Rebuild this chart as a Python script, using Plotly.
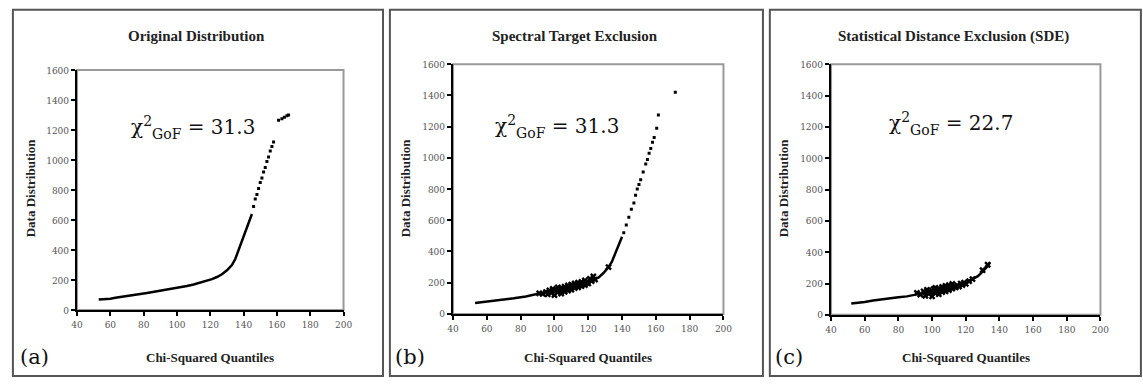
import plotly.graph_objects as go

# ---------------- data ----------------
titles = ["Original Distribution", "Spectral Target Exclusion", "Statistical Distance Exclusion (SDE)"]
panel_tags = ["(a)", "(b)", "(c)"]
gof_values = ["31.3", "31.3", "22.7"]
x_ticks = [40, 60, 80, 100, 120, 140, 160, 180, 200]
y_ticks = [0, 200, 400, 600, 800, 1000, 1200, 1400, 1600]

# panel (a)
a_line_x = [53, 56, 60, 63, 66, 70, 74, 78, 82, 86, 90, 94, 98, 102, 106, 110, 114, 118, 121, 124, 127, 130, 133, 135, 137, 139, 141, 143, 145]
a_line_y = [70, 72, 75, 82, 88, 95, 100, 107, 114, 121, 128, 136, 145, 152, 160, 170, 182, 195, 206, 220, 238, 265, 300, 340, 400, 460, 515, 570, 640]
a_tail_x = [146, 147, 148, 149, 150, 151, 152, 153, 154, 155, 156, 157, 158, 161, 163, 164.5, 166, 167]
a_tail_y = [690, 740, 770, 810, 850, 880, 920, 950, 990, 1020, 1060, 1090, 1120, 1265, 1275, 1285, 1295, 1300]

# panel (b)
b_line_x = [53, 58, 64, 70, 76, 83, 90, 96, 102, 108, 114, 118, 122, 126, 129, 132, 134, 136, 138, 140]
b_line_y = [70, 76, 84, 92, 100, 112, 130, 145, 157, 170, 185, 198, 215, 232, 262, 300, 335, 385, 440, 495]
b_tail_x = [141, 142.5, 144, 145.5, 147, 148, 149, 150, 151, 152.5, 154, 155, 156, 157, 158, 159, 160.5, 161.5, 171.5]
b_tail_y = [520, 570, 620, 670, 710, 760, 800, 830, 860, 910, 960, 990, 1030, 1060, 1100, 1130, 1190, 1275, 1420]
b_clu_x = [91, 93, 95, 96, 97, 98, 99, 100, 100, 101, 102, 102, 103, 104, 104, 105, 106, 106, 107, 108, 108, 109, 110, 110, 111, 112, 112, 113, 114, 114, 115, 116, 116, 117, 118, 118, 119, 120, 121, 122, 123, 124, 132]
b_clu_y = [132, 128, 140, 125, 150, 135, 160, 120, 145, 155, 138, 170, 150, 130, 165, 158, 142, 175, 160, 150, 182, 170, 155, 188, 175, 165, 195, 180, 170, 200, 185, 178, 205, 192, 185, 215, 200, 195, 225, 210, 240, 220, 300]

# panel (c)
c_line_x = [52, 56, 60, 65, 70, 75, 80, 85, 90, 95, 100, 105, 110, 115, 118, 121, 124, 127, 129, 131, 133, 134.5]
c_line_y = [72, 76, 82, 92, 100, 106, 112, 118, 130, 140, 150, 158, 170, 185, 195, 210, 228, 245, 265, 285, 310, 335]
c_clu_x = [91, 93, 95, 96, 97, 98, 99, 100, 100, 101, 102, 102, 103, 104, 104, 105, 106, 106, 107, 108, 108, 109, 110, 110, 111, 112, 112, 113, 114, 115, 116, 117, 118, 119, 120, 122, 124, 130, 133]
c_clu_y = [140, 130, 150, 122, 160, 135, 145, 118, 155, 165, 140, 172, 150, 132, 168, 158, 145, 178, 162, 150, 185, 170, 158, 190, 176, 168, 198, 182, 175, 188, 180, 200, 190, 205, 198, 215, 228, 285, 320]

lines = [(a_line_x, a_line_y), (b_line_x, b_line_y), (c_line_x, c_line_y)]
tails = [(a_tail_x, a_tail_y), (b_tail_x, b_tail_y), ([], [])]
clusters = [([], []), (b_clu_x, b_clu_y), (c_clu_x, c_clu_y)]

# ---------------- layout geometry (pixels) ----------------
W, H = 1143, 384
plot_px = [(72, 342, 67, 314), (453, 727, 61, 318), (836, 1109, 61, 319)]
frames_px = [(7, 382, 5, 382), (389, 767, 5, 382), (774, 1150, 5, 382)]
title_x = [193, 577, 960]
ytitle_x = [25, 405, 788]
tag_x = [29, 409, 793]

fig = go.Figure()
serif = "Liberation Serif"
serif_reg = "DejaVu Serif"
serif_tick = "DejaVu Serif Condensed"

layout = dict(width=W, height=H, margin=dict(l=0, r=0, t=0, b=0),
              paper_bgcolor="white", plot_bgcolor="white", showlegend=False,
              font=dict(family=serif_reg))
shapes = []
annotations = []

for i in range(3):
    xa = "x" if i == 0 else f"x{i+1}"
    ya = "y" if i == 0 else f"y{i+1}"
    l, r, t, b = plot_px[i]
    layout[f"xaxis{'' if i == 0 else i+1}"] = dict(
        domain=[l / W, r / W], range=[40, 200], tickvals=x_ticks, anchor=ya,
        showgrid=False, zeroline=False, showline=True, linecolor="black", linewidth=2,
        ticks="outside", ticklen=4, tickwidth=2, tickcolor="black",
        tickfont=dict(family=serif_tick, size=10, color="#555"))
    layout[f"yaxis{'' if i == 0 else i+1}"] = dict(
        domain=[1 - b / H, 1 - t / H], range=[0, 1600], tickvals=y_ticks, anchor=xa,
        showgrid=False, zeroline=False, showline=True, linecolor="black", linewidth=2,
        ticks="outside", ticklen=4, tickwidth=2, tickcolor="black",
        tickfont=dict(family=serif_tick, size=10, color="#555"))

    # gray plot box (top/right)
    shapes.append(dict(type="rect", xref=f"{xa} domain", yref=f"{ya} domain",
                       x0=0, x1=1, y0=0, y1=1, line=dict(color="#999", width=2), layer="below"))
    # panel frame
    fl, fr, ft, fb = frames_px[i]
    shapes.append(dict(type="rect", xref="paper", yref="paper",
                       x0=fl / W, x1=fr / W, y0=1 - fb / H, y1=1 - ft / H,
                       line=dict(color="#555", width=2)))

    lx, ly = lines[i]
    fig.add_trace(go.Scatter(x=lx, y=ly, mode="lines", xaxis=xa, yaxis=ya,
                             line=dict(color="black", width=2.5)))
    tx, ty = tails[i]
    if tx:
        fig.add_trace(go.Scatter(x=tx, y=ty, mode="markers", xaxis=xa, yaxis=ya,
                                 marker=dict(symbol="square", size=3, color="black")))
    cx, cy = clusters[i]
    if cx:
        fig.add_trace(go.Scatter(x=cx, y=cy, mode="markers", xaxis=xa, yaxis=ya,
                                 marker=dict(symbol="x", size=6, color="black")))

    cxp = (l + r) / 2 / W
    annotations.append(dict(text=f"<b>{titles[i]}</b>", xref="paper", yref="paper",
                            x=title_x[i] / W, y=1 - 32 / H, xanchor="center", yanchor="middle",
                            showarrow=False, font=dict(family=serif, size=15, color="#222")))
    annotations.append(dict(text="<b>Chi-Squared Quantiles</b>", xref="paper", yref="paper",
                            x=cxp, y=1 - 363 / H, xanchor="center", yanchor="middle",
                            showarrow=False, font=dict(family=serif, size=13, color="#222")))
    annotations.append(dict(text="<b>Data Distribution</b>", xref="paper", yref="paper",
                            x=ytitle_x[i] / W, y=1 - 188 / H, xanchor="center", yanchor="middle",
                            showarrow=False, textangle=-90,
                            font=dict(family=serif, size=13, color="#222")))
    annotations.append(dict(text=panel_tags[i], xref="paper", yref="paper",
                            x=tag_x[i] / W, y=1 - 362 / H, xanchor="center", yanchor="middle",
                            showarrow=False, font=dict(family=serif_reg, size=21, color="#111")))
    annotations.append(dict(text=f"χ<sup>2</sup><sub>GoF</sub> = {gof_values[i]}",
                            xref=xa, yref=ya, x=[71, 63.5, 73.5][i], y=[1220, 1200, 1220][i],
                            xanchor="left", yanchor="middle", showarrow=False,
                            font=dict(family=serif_reg, size=20, color="#111")))

layout["shapes"] = shapes
layout["annotations"] = annotations
fig.update_layout(**layout)
fig.write_html("out.html")
